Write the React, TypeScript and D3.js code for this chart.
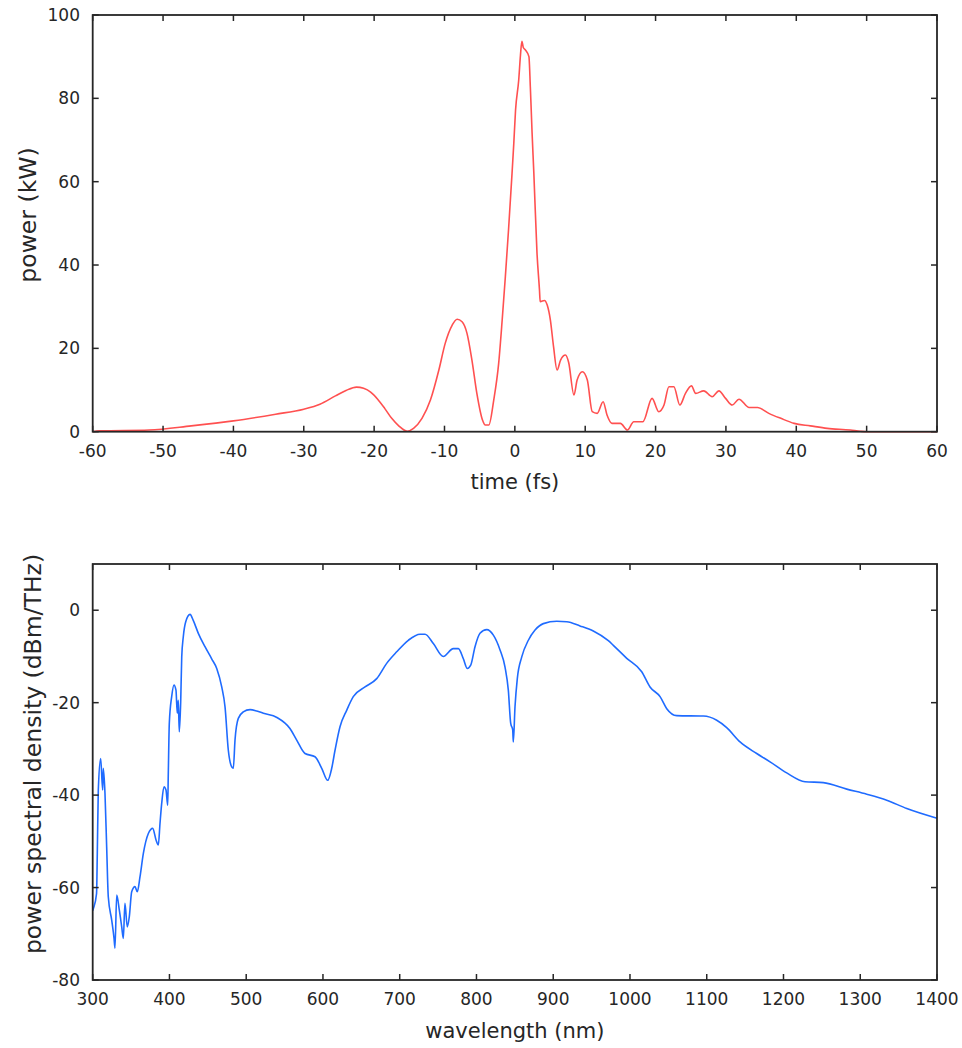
import React from "react";
import * as d3 from "d3";

// time domain pulse (top panel)
const timeFs = [
  -60, -59, -52, -46, -40, -34, -30, -27.7, -25.5, -24, -22.5, -21.5, -20.5, -19.5, -18.5,
  -17.5, -16.5, -15.3, -14.4, -13.2, -12, -10.8, -9.9, -8.9, -8.2, -7.5, -6.8, -6.1, -5.4,
  -4.6, -4.2, -3.7, -3.0, -2.3, -1.8, -1.35, -0.9, -0.4, -0.15, 0.1, 0.55, 0.8, 1.0, 1.2,
  1.5, 2.0, 2.2, 2.45, 2.7, 3.15, 3.5, 3.6, 4.2, 4.6, 5.05, 5.5, 6.0, 6.5, 7.2, 7.65, 8.4,
  8.85, 9.6, 10.3, 11.0, 11.7, 12.55, 13.1, 13.8, 15.0, 16.0, 16.9, 18.2, 19.5, 20.45, 21.2,
  21.9, 22.6, 23.45, 24.25, 25.1, 25.7, 26.85, 28.05, 29.0, 29.95, 30.9, 31.85, 33.3, 34.5,
  36.1, 37.8, 39.7, 42, 44.4, 47.7, 49.1, 50, 60,
];
const powerKw = [
  0, 0.2, 0.4, 1.4, 2.6, 4.2, 5.4, 6.6, 8.6, 9.9, 10.7, 10.4, 9.5, 7.8, 5.6,
  3.2, 1.4, 0.1, 0.8, 3.2, 7.6, 14.8, 21.2, 25.6, 27.0, 26.4, 23.6, 17.2, 9.2,
  2.8, 1.6, 1.6, 7.6, 16.4, 26.8, 37.2, 48.4, 62, 69.2, 77.2, 84.4, 90.4, 93.7, 92.2,
  91.6, 90, 82.8, 71.7, 62, 42.8, 34, 31.2, 31.5, 30.4, 26.8, 20.4, 14.8, 17.2, 18.4, 16.6, 8.8,
  12.4, 14.4, 12.4, 4.8, 4.4, 7.2, 4.0, 2.0, 2.0, 0.4, 2.4, 2.4, 8.0, 4.8, 6.4,
  10.8, 10.8, 6.4, 9.2, 11.0, 9.2, 9.8, 8.4, 9.8, 8.0, 6.4, 7.8, 5.8, 5.8,
  4.4, 3.2, 2.0, 1.4, 0.8, 0.4, 0.1, 0, 0,
];

// spectrum (bottom panel)
const wavelengthNm = [
  300, 301, 305, 306, 307.3, 310.4, 313, 313.8, 316, 318.2, 320.3, 324.7, 327.8, 329, 331.3,
  334.7, 337.8, 339.9, 342, 345, 347.7, 350.8, 355.1, 358.1, 361.6, 366, 372.5, 378.2, 382.5,
  385.5, 387.7, 389.9, 392.9, 395.5, 397.7, 398.5, 399.8, 402.9, 405.9, 408.5, 410.2, 411.5,
  412.8, 414.7, 416, 418, 421.2, 426.8, 431, 437.6, 446.3, 455, 461.6, 468.1, 472.4, 476.7,
  481.1, 483.2, 485.4, 489.7, 496.2, 505, 513.7, 522.3, 540, 557, 565.8, 576.6, 589.6, 598.4,
  606.2, 611.4, 615.7, 622.2, 631, 639.5, 654.8, 670, 683, 696.1, 711.2, 726.5, 733, 743.8,
  756.8, 769.8, 776.4, 782.9, 788.1, 792.5, 798.1, 804.6, 813.4, 822, 830.7, 837.2, 841.5,
  844.6, 847.2, 848, 850.2, 853.2, 859, 867.6, 876.3, 887.1, 904.6, 917.6, 934.9, 952.2,
  971.8, 978.3, 995.8, 1015.3, 1026.1, 1039.2, 1047.9, 1060.9, 1095.6, 1113, 1126, 1143.4,
  1165.1, 1182.5, 1204.2, 1228.1, 1251.9, 1282.4, 1308.5, 1334.5, 1360.6, 1400,
];
const psdDbm = [
  -65, -64.5, -61.3, -52.6, -38.9, -32.1, -38.9, -34.2, -39.6, -51.2, -62, -67, -71, -73.1, -61.6,
  -64.9, -68.5, -71, -63.4, -68.5, -66.3, -60.9, -59.8, -60.9, -57.7, -52.6, -48.3, -47.2, -49.7,
  -50.8, -46.1, -41.8, -38.2, -38.9, -42.2, -35.3, -24.5, -18.7, -16.2, -17.3, -22.3, -19.5,
  -26.3, -19.5, -10.1, -5.8, -2.5, -0.9, -2.2, -5.0, -7.9, -10.5, -12.6, -16.6, -20.9, -30.3,
  -33.9, -34.2, -28.1, -23.4, -22, -21.5, -21.8, -22.3, -23.2, -25.6, -28.1, -31, -31.7, -34.2,
  -36.8, -34.2, -30.3, -25.2, -21.6, -18.7, -16.6, -14.8, -11.5, -9.0, -6.5, -5.2, -5.2, -7.2,
  -10, -8.3, -8.3, -10.5, -12.6, -11.9, -7.9, -5.0, -4.2, -5.4, -8.6, -12.3, -17.3,
  -24.5, -25.9, -28.5, -20.9, -14.8, -10.1, -6.5, -4.3, -2.9, -2.4, -2.5, -3.4, -4.5,
  -6.6, -7.6, -10.4, -13.3, -16.6, -18.7, -21.3, -22.8, -22.9, -23.8, -25.4, -28.5,
  -31.0, -32.8, -35.2, -37.1, -37.3, -38.7, -39.8, -41.1, -42.9, -45.0,
];

const timeTicks = [-60, -50, -40, -30, -20, -10, 0, 10, 20, 30, 40, 50, 60];
const powerTicks = [0, 20, 40, 60, 80, 100];
const waveTicks = [300, 400, 500, 600, 700, 800, 900, 1000, 1100, 1200, 1300, 1400];
const psdTicks = [-80, -60, -40, -20, 0];

const FONT = "'DejaVu Sans', Verdana, sans-serif";
const INK = "#262626";
const TICK = 6;

function Panel({ xs, ys, xDomain, yDomain, top, bottom, xTicks, yTicks, color, xLabel, yLabel, yLabelPos, xLabelY, yLabelSize }) {
  const left = 92.7;
  const right = 937;
  const x = d3.scaleLinear().domain(xDomain).range([left, right]);
  const y = d3.scaleLinear().domain(yDomain).range([bottom, top]);

  // monotone keeps the read-off peaks where they are
  const line = d3
    .line()
    .x((d) => x(d[0]))
    .y((d) => y(d[1]))
    .curve(d3.curveMonotoneX);
  const pts = xs.map((v, i) => [v, ys[i]]);

  return (
    <g>
      <path d={line(pts)} fill="none" stroke={color} strokeWidth={1.6} strokeLinejoin="round" />

      {/* frame */}
      <rect x={left} y={top} width={right - left} height={bottom - top} fill="none" stroke={INK} strokeWidth={1.8} />

      {/* mirrored inward ticks */}
      {xTicks.map((t) => (
        <g key={"x" + t}>
          <line x1={x(t)} x2={x(t)} y1={bottom} y2={bottom - TICK} stroke={INK} strokeWidth={1.5} />
          <line x1={x(t)} x2={x(t)} y1={top} y2={top + TICK} stroke={INK} strokeWidth={1.5} />
          <text x={x(t)} y={bottom + 25} textAnchor="middle" fontSize={17} fontFamily={FONT} fill={INK}>
            {t}
          </text>
        </g>
      ))}
      {yTicks.map((t) => (
        <g key={"y" + t}>
          <line x1={left} x2={left + TICK} y1={y(t)} y2={y(t)} stroke={INK} strokeWidth={1.5} />
          <line x1={right} x2={right - TICK} y1={y(t)} y2={y(t)} stroke={INK} strokeWidth={1.5} />
          <text x={80} y={y(t)} dy="0.36em" textAnchor="end" fontSize={17} fontFamily={FONT} fill={INK}>
            {t}
          </text>
        </g>
      ))}

      <text x={(left + right) / 2} y={xLabelY} textAnchor="middle" fontSize={21} fontFamily={FONT} fill={INK}>
        {xLabel}
      </text>
      <text
        transform={`translate(${yLabelPos[0]},${yLabelPos[1]}) rotate(-90)`}
        textAnchor="middle"
        dominantBaseline="central"
        fontSize={yLabelSize}
        fontFamily={FONT}
        fill={INK}
      >
        {yLabel}
      </text>
    </g>
  );
}

export default function App() {
  return (
    <svg width={962} height={1048} style={{ position: "absolute", left: 0, top: 0, background: "#fff" }}>
      <rect width={962} height={1048} fill="#fff" />
      <Panel
        xs={timeFs}
        ys={powerKw}
        xDomain={[-60, 60]}
        yDomain={[0, 100]}
        top={15}
        bottom={431.7}
        xTicks={timeTicks}
        yTicks={powerTicks}
        color="#ff5050"
        xLabel="time (fs)"
        xLabelY={489}
        yLabel="power (kW)"
        yLabelPos={[28, 215]}
        yLabelSize={23.5}
      />
      <Panel
        xs={wavelengthNm}
        ys={psdDbm}
        xDomain={[300, 1400]}
        yDomain={[-80, 10]}
        top={564}
        bottom={980}
        xTicks={waveTicks}
        yTicks={psdTicks}
        color="#1f6bff"
        xLabel="wavelength (nm)"
        xLabelY={1038}
        yLabel="power spectral density (dBm/THz)"
        yLabelPos={[33, 754]}
        yLabelSize={23.5}
      />
    </svg>
  );
}
